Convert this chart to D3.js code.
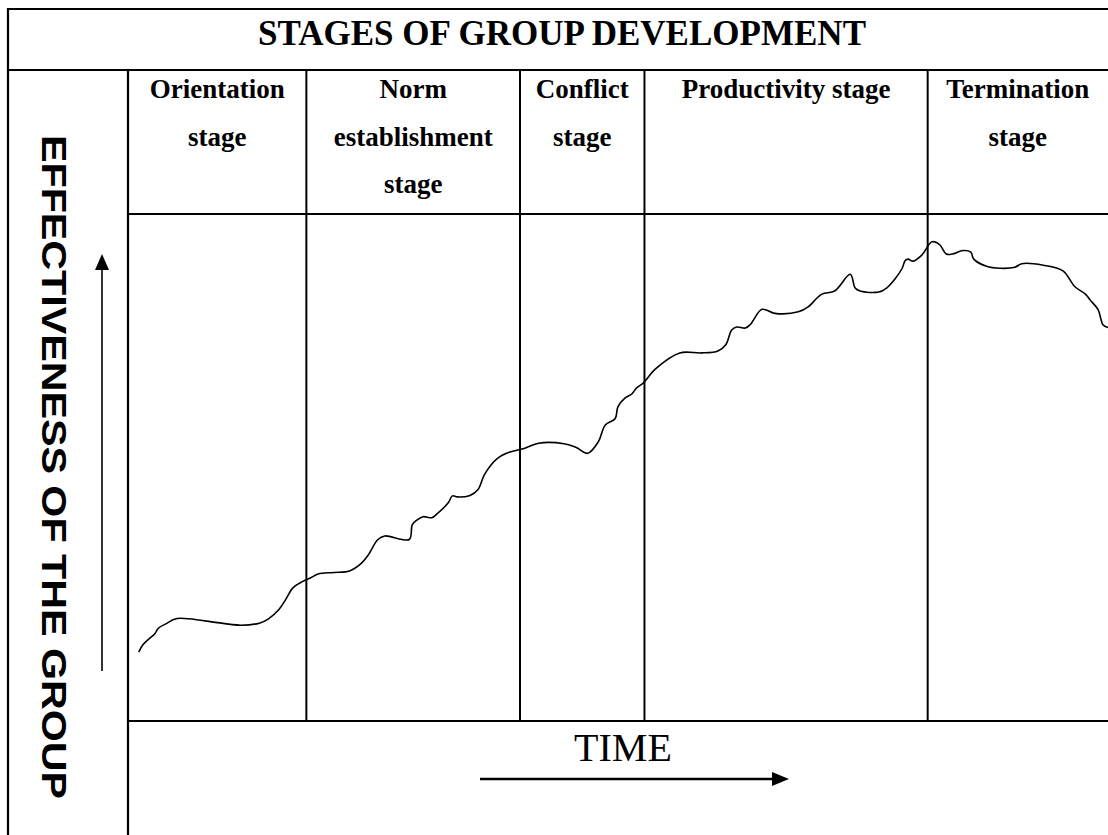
<!DOCTYPE html>
<html>
<head>
<meta charset="utf-8">
<script src="https://cdn.jsdelivr.net/npm/d3@7"></script>
<style>
  html, body { margin: 0; padding: 0; background: #fff; }
  svg { display: block; }
</style>
</head>
<body>
<svg id="chart" width="1108" height="835"></svg>
<script>
// ---------- DATA ----------
const title = "STAGES OF GROUP DEVELOPMENT";
const yAxisLabel = "EFFECTIVENESS OF THE GROUP";
const xAxisLabel = "TIME";

// stage header labels (line by line) and stage end positions on the time axis (0-100)
const stageLabels = [
  ["Orientation", "stage"],
  ["Norm", "establishment", "stage"],
  ["Conflict", "stage"],
  ["Productivity stage"],
  ["Termination", "stage"]
];
const stageEnds = [18.2, 40.0, 52.7, 81.6, 100];

// effectiveness curve (time 0-100, effectiveness 0-100)
const timeValues = [
  1.1, 1.5, 2.2, 2.7, 3.1, 3.8, 5.0, 8.0, 11.5, 13.4, 14.3, 15.4, 16.1, 16.8, 17.8,
  18.7, 19.4, 21.0, 22.6, 23.8, 24.5, 25.5, 26.2, 28.7, 29.0, 29.4, 30.1, 31.0, 31.5,
  32.7, 33.1, 33.6, 34.9, 35.7, 36.4, 37.7, 38.9, 40.5, 41.9, 44.5, 45.7, 46.9, 48.0,
  48.7, 49.7, 50.0, 50.7, 51.4, 51.9, 52.6, 53.8, 56.3, 58.5, 60.2, 61.0, 61.6, 62.1,
  63.0, 63.5, 64.7, 66.0, 68.4, 69.4, 70.8, 72.1, 73.7, 74.2, 74.7, 76.6, 77.4, 78.3,
  79.0, 79.3, 79.6, 80.1, 81.0, 82.0, 82.5, 82.9, 83.5, 84.1, 85.2, 86.0, 86.3, 87.6,
  89.0, 90.5, 91.2, 93.4, 95.4, 96.6, 97.7, 98.2, 99.0, 99.3, 99.5, 100.0
];
const effectivenessValues = [
  13.6, 15.0, 16.3, 17.1, 18.3, 19.1, 20.2, 19.7, 18.9, 19.3, 20.1, 22.0, 24.0, 26.2, 27.5,
  28.3, 29.0, 29.3, 29.6, 31.1, 32.7, 35.8, 36.5, 35.8, 38.7, 39.5, 40.3, 40.1, 40.8,
  43.1, 44.4, 44.2, 44.5, 45.6, 48.7, 51.8, 53.0, 53.8, 54.8, 54.7, 54.0, 52.8, 55.1,
  58.4, 59.6, 62.0, 63.7, 64.5, 65.7, 66.7, 69.4, 72.6, 72.6, 73.0, 74.2, 77.1, 77.7,
  77.5, 78.2, 81.2, 80.4, 80.7, 81.7, 84.2, 84.8, 88.1, 85.4, 84.8, 84.6, 85.4, 87.3,
  89.3, 90.8, 91.1, 90.7, 91.9, 94.5, 94.4, 93.8, 92.1, 92.1, 92.8, 92.5, 91.1, 89.7,
  89.3, 89.5, 90.2, 89.9, 88.8, 85.7, 84.2, 83.0, 81.1, 79.1, 78.1, 77.6
];

// ---------- LAYOUT ----------
const W = 1108, H = 835;
const leftEdge = 8, topEdge = 9;
const titleBottom = 70;
const labelColRight = 128;
const headerBottom = 214;
const plotBottom = 721;

const svg = d3.select("#chart");
const x = d3.scaleLinear().domain([0, 100]).range([labelColRight, W]);
const y = d3.scaleLinear().domain([0, 100]).range([plotBottom, headerBottom]);

const g = svg.append("g").attr("stroke", "#000").attr("fill", "none");

// outer / grid lines
const hLines = [
  [leftEdge - 1, W, topEdge],
  [leftEdge - 1, W, titleBottom],
  [labelColRight, W, headerBottom],
  [labelColRight, W, plotBottom]
];
g.selectAll("line.h").data(hLines).join("line")
  .attr("class", "h")
  .attr("x1", d => d[0]).attr("x2", d => d[1])
  .attr("y1", d => d[2]).attr("y2", d => d[2])
  .attr("stroke-width", 2.2);

const vLines = [
  [leftEdge, topEdge - 1, H],
  [labelColRight, titleBottom, H]
];
g.selectAll("line.v").data(vLines).join("line")
  .attr("class", "v")
  .attr("x1", d => d[0]).attr("x2", d => d[0])
  .attr("y1", d => d[1]).attr("y2", d => d[2])
  .attr("stroke-width", 2.2);

// stage separators
g.selectAll("line.stage").data(stageEnds.slice(0, -1)).join("line")
  .attr("class", "stage")
  .attr("x1", d => x(d)).attr("x2", d => x(d))
  .attr("y1", titleBottom).attr("y2", plotBottom)
  .attr("stroke-width", 2);

// title
svg.append("text")
  .attr("x", 562)
  .attr("y", 45)
  .attr("text-anchor", "middle")
  .attr("font-family", "'Liberation Serif', 'Times New Roman', serif")
  .attr("font-weight", "bold")
  .attr("font-size", 35)
  .attr("textLength", 608)
  .attr("lengthAdjust", "spacingAndGlyphs")
  .text(title);

// stage headers
const stageStarts = [0].concat(stageEnds.slice(0, -1));
const lineBaselines = [98, 145.5, 193];
stageLabels.forEach((lines, i) => {
  const cx = (x(stageStarts[i]) + x(stageEnds[i])) / 2;
  lines.forEach((txt, j) => {
    svg.append("text")
      .attr("x", cx)
      .attr("y", lineBaselines[j])
      .attr("text-anchor", "middle")
      .attr("font-family", "'Liberation Serif', 'Times New Roman', serif")
      .attr("font-weight", "bold")
      .attr("font-size", 27)
      .text(txt);
  });
});

// y-axis label (rotated)
svg.append("text")
  .attr("transform", "translate(42,135) rotate(90)")
  .attr("font-family", "'Liberation Sans', Arial, sans-serif")
  .attr("font-weight", "bold")
  .attr("font-size", 35)
  .attr("textLength", 664)
  .attr("lengthAdjust", "spacingAndGlyphs")
  .text(yAxisLabel);

// y arrow
svg.append("line")
  .attr("x1", 102).attr("x2", 102)
  .attr("y1", 671).attr("y2", 266)
  .attr("stroke", "#000").attr("stroke-width", 1.6);
svg.append("path")
  .attr("d", d3.line()([[102, 254], [95, 270], [109, 270]]) + "Z")
  .attr("fill", "#000");

// x-axis label
svg.append("text")
  .attr("x", 623)
  .attr("y", 761)
  .attr("text-anchor", "middle")
  .attr("font-family", "'Liberation Serif', 'Times New Roman', serif")
  .attr("font-size", 40)
  .text(xAxisLabel);

// x arrow
svg.append("line")
  .attr("x1", 480).attr("x2", 776)
  .attr("y1", 779).attr("y2", 779)
  .attr("stroke", "#000").attr("stroke-width", 2.4);
svg.append("path")
  .attr("d", d3.line()([[789, 779], [772, 772], [772, 786]]) + "Z")
  .attr("fill", "#000");

// effectiveness curve
const pts = timeValues.map((t, i) => [t, effectivenessValues[i]]);
svg.append("path")
  .datum(pts)
  .attr("fill", "none")
  .attr("stroke", "#000")
  .attr("stroke-width", 1.6)
  .attr("stroke-linejoin", "round")
  .attr("d", d3.line().x(d => x(d[0])).y(d => y(d[1])).curve(d3.curveCatmullRom.alpha(0.5)));
</script>
</body>
</html>
